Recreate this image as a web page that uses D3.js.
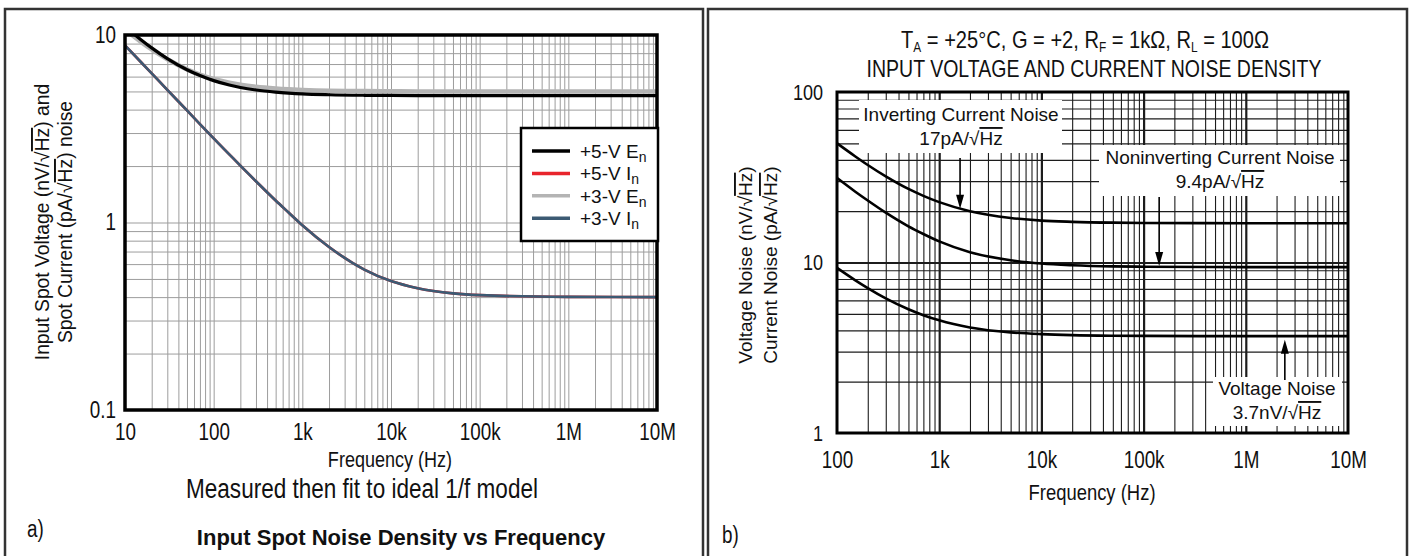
<!DOCTYPE html>
<html>
<head>
<meta charset="utf-8">
<script src="https://cdn.jsdelivr.net/npm/d3@7"></script>
<style>
body{margin:0;background:#fff;}
svg text{font-family:"Liberation Sans",Arial,Helvetica,sans-serif;fill:#111;}
</style>
</head>
<body>
<svg id="chart" width="1411" height="556"></svg>
<script>
// ---- data ----
// panel a: input spot noise
var freqA = [10, 15, 20, 30, 50, 70, 100, 150, 200, 300, 500, 700, 1e3, 2e3, 5e3, 1e4, 2e4, 5e4, 1e5, 1e6, 1e7];
var en5V = [11.1, 9.47, 8.54, 7.49, 6.53, 6.08, 5.71, 5.41, 5.25, 5.09, 4.96, 4.90, 4.85, 4.80, 4.77, 4.76, 4.755, 4.752, 4.75, 4.75, 4.75];
var in5V = [8.81, 7.20, 6.24, 5.10, 3.96, 3.35, 2.81, 2.31, 2.01, 1.66, 1.31, 1.13, 0.967, 0.74, 0.561, 0.487, 0.446, 0.419, 0.41, 0.401, 0.4];
var en3V = [10.7, 9.22, 8.37, 7.42, 6.56, 6.15, 5.83, 5.57, 5.43, 5.29, 5.18, 5.13, 5.09, 5.04, 5.02, 5.01, 5.0, 5.0, 5.0, 5.0, 5.0];
var in3V = [8.81, 7.20, 6.24, 5.10, 3.96, 3.35, 2.81, 2.31, 2.01, 1.66, 1.31, 1.13, 0.967, 0.74, 0.561, 0.487, 0.446, 0.419, 0.41, 0.401, 0.4];
var xTicksA = [10, 100, 1e3, 1e4, 1e5, 1e6, 1e7];
var xLabelsA = ['10', '100', '1k', '10k', '100k', '1M', '10M'];
var yTicksA = [0.1, 1, 10];
var yLabelsA = ['0.1', '1', '10'];

// panel b: voltage and current noise density
var freqB = [100, 150, 200, 300, 500, 700, 1e3, 2e3, 5e3, 1e4, 2e4, 5e4, 1e5, 1e6, 1e7];
var invCurrent = [50.0, 42.0, 37.3, 32.0, 27.0, 24.6, 22.6, 20.0, 18.25, 17.6, 17.32, 17.13, 17.06, 17.0, 17.0];
var noninvCurrent = [31.3, 26.1, 23.1, 19.6, 16.3, 14.7, 13.3, 11.5, 10.3, 9.86, 9.64, 9.49, 9.45, 9.4, 9.4];
var voltNoise = [9.30, 7.89, 7.08, 6.16, 5.32, 4.91, 4.58, 4.16, 3.89, 3.80, 3.75, 3.72, 3.71, 3.70, 3.70];
var xTicksB = [100, 1e3, 1e4, 1e5, 1e6, 1e7];
var xLabelsB = ['100', '1k', '10k', '100k', '1M', '10M'];
var yTicksB = [1, 10, 100];
var yLabelsB = ['1', '10', '100'];

var svg = d3.select('#chart');
var SX = 0.82;   // narrow face look

function narrow(g, x, y, str, size, anchor){
  return g.append('text')
    .attr('transform','translate('+x+','+y+') scale('+SX+',1)')
    .attr('text-anchor',anchor || 'middle')
    .attr('font-size',size)
    .text(str);
}
// all k*10^n values inside a log domain (for grid)
function minor(lo, hi){
  var out = [];
  for (var p = Math.floor(Math.log10(lo)); p < Math.ceil(Math.log10(hi)); p++){
    for (var k = 1; k < 10; k++){
      var v = k * Math.pow(10, p);
      if (v > lo * 1.0001 && v < hi * 0.9999) out.push(v);
    }
  }
  return out;
}
function isDecade(v){ return Math.abs(Math.log10(v) - Math.round(Math.log10(v))) < 1e-6; }

// panel frames
svg.append('rect').attr('x',5).attr('y',9).attr('width',698).attr('height',580)
  .attr('fill','none').attr('stroke','#333').attr('stroke-width',2.5);
svg.append('rect').attr('x',708).attr('y',9).attr('width',699).attr('height',580)
  .attr('fill','none').attr('stroke','#333').attr('stroke-width',2.5);

// ================= panel a =================
var A = {l:125, r:657, t:35, b:410};
var xA = d3.scaleLog().domain([10,1e7]).range([A.l,A.r]);
var yA = d3.scaleLog().domain([0.1,10]).range([A.b,A.t]);
var gA = svg.append('g');

gA.append('g').attr('transform','translate(0,'+A.b+')')
  .call(d3.axisBottom(xA).tickValues(minor(10,1e7)).tickSize(-(A.b-A.t)).tickFormat(''))
  .call(function(g){ g.select('.domain').remove(); })
  .selectAll('line').attr('stroke','#9d9d9d').attr('stroke-width',1);
gA.append('g').attr('transform','translate('+A.l+',0)')
  .call(d3.axisLeft(yA).tickValues(minor(0.1,10)).tickSize(-(A.r-A.l)).tickFormat(''))
  .call(function(g){ g.select('.domain').remove(); })
  .selectAll('line').attr('stroke','#9d9d9d').attr('stroke-width',1);

gA.append('clipPath').attr('id','clipA').append('rect')
  .attr('x',A.l).attr('y',A.t).attr('width',A.r-A.l).attr('height',A.b-A.t);

var seriesA = [
  {label:'+5-V ', sym:'E', vals:en5V, color:'#000000', w:3.2},
  {label:'+5-V ', sym:'I', vals:in5V, color:'#e8242c', w:2.6},
  {label:'+3-V ', sym:'E', vals:en3V, color:'#b4b4b4', w:4.5},
  {label:'+3-V ', sym:'I', vals:in3V, color:'#3c5a73', w:2.6}
];
var lineA = d3.line().x(function(d){return xA(d[0]);}).y(function(d){return yA(d[1]);}).curve(d3.curveMonotoneX);
[2,0,1,3].forEach(function(i){
  var s = seriesA[i];
  gA.append('path').attr('clip-path','url(#clipA)')
    .attr('d', lineA(freqA.map(function(f,j){return [f, s.vals[j]];})))
    .attr('fill','none').attr('stroke',s.color).attr('stroke-width',s.w);
});

gA.append('rect').attr('x',A.l).attr('y',A.t).attr('width',A.r-A.l).attr('height',A.b-A.t)
  .attr('fill','none').attr('stroke','#000').attr('stroke-width',3.5);

// tick labels
var axA = gA.append('g').attr('transform','translate(0,'+(A.b+14)+')')
  .call(d3.axisBottom(xA).tickValues(xTicksA).tickSize(0).tickPadding(0)
    .tickFormat(function(d,i){return xLabelsA[i];}));
axA.select('.domain').remove();
axA.attr('font-size',23).attr('font-family',null);
axA.selectAll('text').attr('transform','scale('+SX+',1)').attr('fill','#111');
var ayA = gA.append('g').attr('transform','translate('+(A.l-9)+',0)')
  .call(d3.axisLeft(yA).tickValues(yTicksA).tickSize(0).tickPadding(0)
    .tickFormat(function(d,i){return yLabelsA[i];}));
ayA.select('.domain').remove();
ayA.attr('font-size',23).attr('font-family',null);
ayA.selectAll('text').attr('transform','scale('+SX+',1)').attr('fill','#111');

narrow(gA, 390, 467, 'Frequency (Hz)', 22);
narrow(gA, 362, 498, 'Measured then fit to ideal 1/f model', 27.5);
gA.append('text').attr('x',401).attr('y',545).attr('text-anchor','middle')
  .attr('font-size',22).attr('font-weight','bold').text('Input Spot Noise Density vs Frequency');
narrow(gA, 27, 537, 'a)', 23, 'start');

// y title
var yt1 = gA.append('text').attr('transform','translate(49,222) rotate(-90)')
  .attr('text-anchor','middle').attr('font-size',19.3);
yt1.append('tspan').text('Input Spot Voltage (nV/√');
yt1.append('tspan').attr('text-decoration','overline').text('Hz');
yt1.append('tspan').text(') and');
var yt2 = gA.append('text').attr('transform','translate(72,222) rotate(-90)')
  .attr('text-anchor','middle').attr('font-size',19.3);
yt2.append('tspan').text('Spot Current (pA/√');
yt2.append('tspan').attr('text-decoration','overline').text('Hz');
yt2.append('tspan').text(') noise');

// legend
var leg = gA.append('g');
leg.append('rect').attr('x',521).attr('y',128).attr('width',137).attr('height',113)
  .attr('fill','#fff').attr('stroke','#000').attr('stroke-width',2.5);
seriesA.forEach(function(s,i){
  var y = 151 + i*22.4;
  leg.append('line').attr('x1',532).attr('x2',570).attr('y1',y).attr('y2',y)
    .attr('stroke',s.color).attr('stroke-width',3.5);
  var t = leg.append('text').attr('x',580).attr('y',y+7).attr('font-size',19);
  t.append('tspan').text(s.label + s.sym);
  t.append('tspan').attr('dy',4).attr('font-size',14).text('n');
});

// ================= panel b =================
var B = {l:837, r:1348, t:92, b:433};
var xB = d3.scaleLog().domain([100,1e7]).range([B.l,B.r]);
var yB = d3.scaleLog().domain([1,100]).range([B.b,B.t]);
var gB = svg.append('g');

gB.append('g').attr('transform','translate(0,'+B.b+')')
  .call(d3.axisBottom(xB).tickValues(minor(100,1e7)).tickSize(-(B.b-B.t)).tickFormat(''))
  .call(function(g){ g.select('.domain').remove(); })
  .selectAll('line').attr('stroke','#1c1c1c')
  .attr('stroke-width',function(d){return isDecade(d) ? 2.2 : 1.1;});
gB.append('g').attr('transform','translate('+B.l+',0)')
  .call(d3.axisLeft(yB).tickValues(minor(1,100)).tickSize(-(B.r-B.l)).tickFormat(''))
  .call(function(g){ g.select('.domain').remove(); })
  .selectAll('line').attr('stroke','#1c1c1c')
  .attr('stroke-width',function(d){return isDecade(d) ? 2.2 : 1.1;});

// annotation boxes cover the grid
var boxesB = [
  {x:859, y:100, w:203, h:53},
  {x:1099, y:145, w:241, h:51},
  {x:1213, y:377, w:129, h:49}
];
boxesB.forEach(function(b){
  gB.append('rect').attr('x',b.x).attr('y',b.y).attr('width',b.w).attr('height',b.h).attr('fill','#fff');
});

var lineB = d3.line().x(function(d){return xB(d[0]);}).y(function(d){return yB(d[1]);}).curve(d3.curveMonotoneX);
[invCurrent, noninvCurrent, voltNoise].forEach(function(vals){
  gB.append('path')
    .attr('d', lineB(freqB.map(function(f,j){return [f, vals[j]];})))
    .attr('fill','none').attr('stroke','#000').attr('stroke-width',2.6);
});

gB.append('rect').attr('x',B.l).attr('y',B.t).attr('width',B.r-B.l).attr('height',B.b-B.t)
  .attr('fill','none').attr('stroke','#000').attr('stroke-width',3);

var axB = gB.append('g').attr('transform','translate(0,'+(B.b+19)+')')
  .call(d3.axisBottom(xB).tickValues(xTicksB).tickSize(0).tickPadding(0)
    .tickFormat(function(d,i){return xLabelsB[i];}));
axB.select('.domain').remove();
axB.attr('font-size',23).attr('font-family',null);
axB.selectAll('text').attr('transform','scale('+SX+',1)').attr('fill','#111');
var ayB = gB.append('g').attr('transform','translate('+(B.l-14)+',0)')
  .call(d3.axisLeft(yB).tickValues(yTicksB).tickSize(0).tickPadding(0)
    .tickFormat(function(d,i){return yLabelsB[i];}));
ayB.select('.domain').remove();
ayB.attr('font-size',22).attr('font-family',null);
ayB.selectAll('text').attr('transform','scale('+SX+',1)').attr('fill','#111');

narrow(gB, 1092, 500, 'Frequency (Hz)', 22.5);
narrow(gB, 722, 543, 'b)', 23, 'start');

// titles
var t1 = gB.append('text').attr('transform','translate(1085,48) scale('+SX+',1)')
  .attr('text-anchor','middle').attr('font-size',24.5);
[['T',''],['A','sub'],[' = +25°C, G = +2, R',''],['F','sub'],[' = 1kΩ, R',''],['L','sub'],[' = 100Ω','']]
  .forEach(function(p, i, arr){
    var ts = t1.append('tspan').text(p[0]);
    if (p[1] === 'sub') ts.attr('dy',4).attr('font-size',14.5);
    else if (i > 0 && arr[i-1][1] === 'sub') ts.attr('dy',-4);
  });
narrow(gB, 1094, 77, 'INPUT VOLTAGE AND CURRENT NOISE DENSITY', 23.8);

// y title
[['Voltage Noise (nV/√', 752], ['Current Noise (pA/√', 777]].forEach(function(p){
  var t = gB.append('text').attr('transform','translate('+p[1]+',265) rotate(-90)')
    .attr('text-anchor','middle').attr('font-size',19);
  t.append('tspan').text(p[0]);
  t.append('tspan').attr('text-decoration','overline').text('Hz');
  t.append('tspan').text(')');
});

// annotations
var notesB = [
  {cx:961, y1:121, y2:145, line1:'Inverting Current Noise', pre:'17pA/√'},
  {cx:1220, y1:164, y2:188, line1:'Noninverting Current Noise', pre:'9.4pA/√'},
  {cx:1277, y1:395, y2:419, line1:'Voltage Noise', pre:'3.7nV/√'}
];
notesB.forEach(function(n){
  gB.append('text').attr('x',n.cx).attr('y',n.y1).attr('text-anchor','middle').attr('font-size',19).text(n.line1);
  var t = gB.append('text').attr('x',n.cx).attr('y',n.y2).attr('text-anchor','middle').attr('font-size',19);
  t.append('tspan').text(n.pre);
  t.append('tspan').attr('text-decoration','overline').text('Hz');
});

// arrows: tail y and the curve point they hit
var arrowsB = [
  {f:1600, v:20.7, tail:158},
  {f:1.42e5, v:9.55, tail:197},
  {f:2.41e6, v:3.52, tail:380}
];
arrowsB.forEach(function(a){
  var x = xB(a.f), tip = yB(a.v), dir = tip > a.tail ? 1 : -1;
  gB.append('line').attr('x1',x).attr('x2',x).attr('y1',a.tail).attr('y2',tip - dir*10)
    .attr('stroke','#000').attr('stroke-width',1.6);
  gB.append('path')
    .attr('d','M'+x+','+tip+'L'+(x-4)+','+(tip-dir*14)+'L'+(x+4)+','+(tip-dir*14)+'Z')
    .attr('fill','#000');
});
</script>
</body>
</html>
